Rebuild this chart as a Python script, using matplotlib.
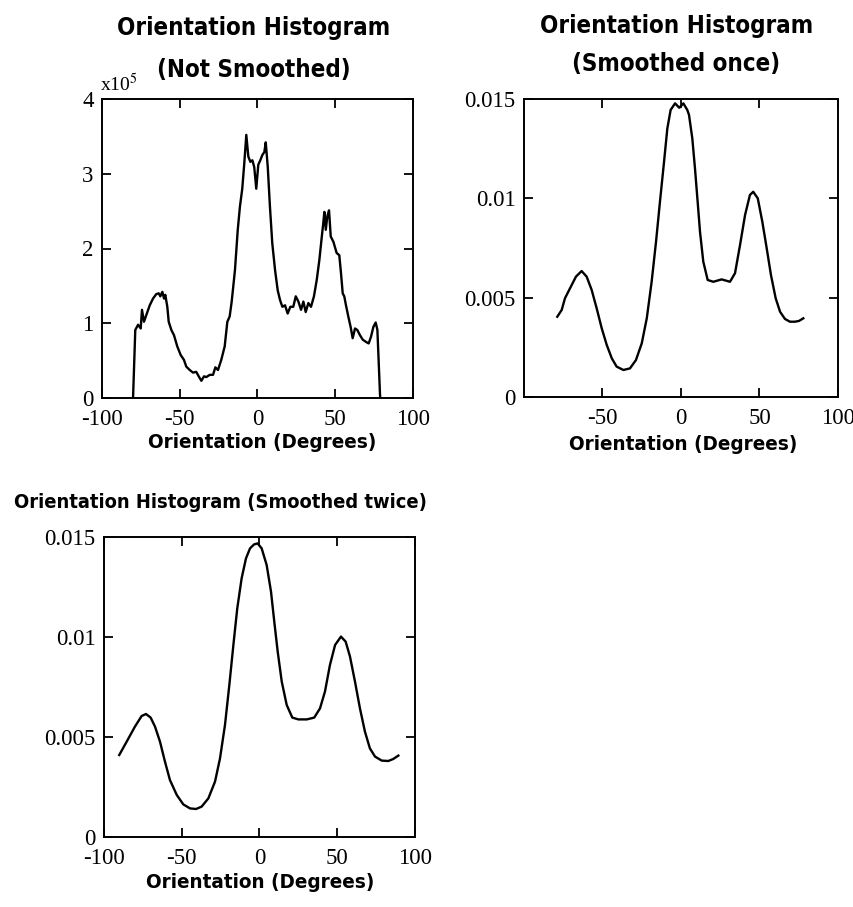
import matplotlib
matplotlib.use('Agg')
import matplotlib.pyplot as plt
from matplotlib import font_manager
from matplotlib.font_manager import FontProperties

# ---- data ----
# not smoothed histogram (counts in units of 1e5)
raw_deg = [-80.1, -80.0, -78.6, -76.8, -75.1, -74.3, -73.0, -71.5, -69.3, -67.2,
           -65.1, -63.5, -62.5, -61.2, -60.1, -59.3, -58.0, -57.1, -55.4, -53.7,
           -51.6, -49.4, -47.3, -45.8, -43.6, -41.5, -39.4, -37.8, -36.1, -34.4,
           -32.9, -30.7, -28.6, -27.1, -25.4, -23.3, -21.1, -19.4, -17.9, -16.6,
           -14.5, -12.7, -11.3, -9.8, -8.5, -7.2, -5.9, -4.6, -3.3, -2.1,
           -0.8, 0.5, 1.8, 3.1, 4.4, 5.3, 6.6, 8.0, 9.5, 11.3,
           13.0, 14.5, 16.0, 17.7, 19.4, 21.1, 23.0, 24.6, 26.3, 28.0,
           29.5, 31.0, 32.7, 34.4, 36.3, 38.1, 39.8, 41.1, 42.3, 43.0,
           43.9, 44.9, 46.0, 47.1, 48.8, 50.9, 52.6, 53.7, 54.8, 55.8,
           56.9, 58.4, 59.9, 61.2, 62.7, 64.2, 65.9, 67.7, 69.8, 71.5,
           73.0, 74.5, 76.0, 77.1, 78.8, 79.0]
raw_count = [0.0, 0.02, 0.91, 0.98, 0.93, 1.18, 1.02, 1.11, 1.24, 1.33,
             1.39, 1.40, 1.36, 1.42, 1.33, 1.38, 1.22, 1.02, 0.91, 0.84,
             0.69, 0.575, 0.51, 0.42, 0.375, 0.34, 0.35, 0.29, 0.23, 0.29,
             0.28, 0.31, 0.31, 0.41, 0.375, 0.51, 0.69, 1.02, 1.09, 1.29,
             1.71, 2.25, 2.56, 2.80, 3.14, 3.52, 3.23, 3.16, 3.18, 3.09,
             2.80, 3.12, 3.18, 3.25, 3.29, 3.42, 3.09, 2.56, 2.07, 1.71,
             1.44, 1.31, 1.22, 1.24, 1.13, 1.22, 1.22, 1.36, 1.29, 1.18,
             1.29, 1.15, 1.27, 1.22, 1.36, 1.58, 1.85, 2.11, 2.34, 2.49,
             2.25, 2.43, 2.51, 2.16, 2.09, 1.94, 1.91, 1.67, 1.40, 1.36,
             1.24, 1.09, 0.95, 0.80, 0.93, 0.91, 0.84, 0.78, 0.75, 0.73,
             0.82, 0.95, 1.01, 0.91, 0.04, 0.0]

# smoothed once
once_deg = [-78.8, -76.0, -73.9, -70.7, -66.9, -63.3, -60.1, -56.9, -53.7, -50.5,
            -47.3, -44.1, -41.0, -36.7, -32.5, -28.7, -25.0, -21.8, -18.7, -15.9,
            -13.4, -10.8, -8.7, -6.6, -3.8, -1.1, 1.5, 4.0, 5.1, 7.2,
            8.9, 10.6, 12.1, 14.2, 17.0, 20.6, 25.9, 31.2, 34.4, 37.6,
            40.8, 43.9, 46.0, 48.9, 51.8, 54.6, 57.3, 60.3, 63.1, 66.2,
            69.4, 72.6, 75.2, 77.9]
once_val = [0.00404, 0.00438, 0.00497, 0.00547, 0.00606, 0.00634, 0.00606, 0.00539, 0.00446, 0.00346,
            0.00262, 0.00195, 0.00153, 0.00136, 0.00144, 0.00186, 0.00270, 0.00396, 0.00580, 0.00782,
            0.00983, 0.01184, 0.01352, 0.01445, 0.01478, 0.01456, 0.01478, 0.01445, 0.01420, 0.01302,
            0.01151, 0.00983, 0.00832, 0.00681, 0.00589, 0.00580, 0.00592, 0.00580, 0.00623, 0.00765,
            0.00916, 0.01017, 0.01033, 0.01000, 0.00882, 0.00748, 0.00614, 0.00497, 0.00429, 0.00393,
            0.00379, 0.00379, 0.00383, 0.00396]

# smoothed twice
twice_deg = [-90.2, -85.4, -80.1, -75.8, -73.0, -70.0, -67.2, -64.0, -60.8, -57.6,
             -53.2, -49.0, -44.7, -40.8, -37.2, -32.9, -28.6, -25.4, -22.2, -19.4,
             -16.8, -14.3, -11.5, -8.7, -6.1, -3.5, -1.2, 1.4, 4.6, 7.4,
             9.5, 11.7, 14.3, 17.5, 21.1, 25.0, 30.4, 35.2, 38.9, 42.1,
             45.3, 48.6, 52.4, 55.4, 58.2, 61.4, 64.6, 67.8, 71.0, 74.3,
             78.6, 82.8, 86.0, 89.3]
twice_val = [0.00410, 0.00477, 0.00552, 0.00605, 0.00615, 0.00597, 0.00552, 0.00477, 0.00377, 0.00285,
             0.00210, 0.00163, 0.00143, 0.00140, 0.00152, 0.00193, 0.00277, 0.00393, 0.00560, 0.00760,
             0.00960, 0.01143, 0.01293, 0.01393, 0.01443, 0.01463, 0.01468, 0.01443, 0.01360, 0.01227,
             0.01077, 0.00927, 0.00777, 0.00660, 0.00597, 0.00588, 0.00588, 0.00597, 0.00643, 0.00727,
             0.00860, 0.00960, 0.01002, 0.00977, 0.00902, 0.00777, 0.00643, 0.00527, 0.00443, 0.00402,
             0.00382, 0.00380, 0.00390, 0.00407]

xticks_full = [-100, -50, 0, 50, 100]
xticks_once = [-50, 0, 50, 100]
yticks_raw = [0, 1, 2, 3, 4]
yticks_norm = [0, 0.005, 0.01, 0.015]
ylabels_norm = ['0', '0.005', '0.01', '0.015']

# ---- fonts: prefer a narrow bold sans for the headings ----
head_prop = None
ttf = font_manager.fontManager.ttflist
for want in ['Liberation Sans Narrow', 'Arial Narrow', 'DejaVu Sans Condensed']:
    hits = [f for f in ttf if f.name == want and f.weight in (700, 'bold')]
    if hits:
        head_prop = FontProperties(fname=hits[0].fname)
        break
if head_prop is None:
    hits = [f for f in ttf if f.name == 'DejaVu Sans' and f.stretch == 'condensed'
            and f.weight in (700, 'bold')]
    if hits:
        head_prop = FontProperties(fname=hits[0].fname)
if head_prop is None:
    head_prop = FontProperties(family='Liberation Sans', weight='bold')

tick_font = 'Liberation Serif'
plt.rcParams['mathtext.fontset'] = 'stix'

W, H = 854, 907
fig = plt.figure(figsize=(W / 100, H / 100), dpi=100)
renderer = fig.canvas.get_renderer()


def px_axes(x0, y0, x1, y1):
    return fig.add_axes([x0 / W, 1 - y1 / H, (x1 - x0) / W, (y1 - y0) / H])


def style(ax, xt, yt, ylab=None):
    ax.set_xlim(-100, 100)
    ax.set_xticks(xt)
    ax.set_xticklabels([str(v) for v in xt])
    ax.set_yticks(yt)
    if ylab is not None:
        ax.set_yticklabels(ylab)
    ax.tick_params(direction='in', top=True, right=True, length=6.5, width=1.3,
                   labelsize=16.5)
    ax.tick_params(axis='x', pad=8)
    ax.tick_params(axis='y', pad=6)
    for lab in ax.get_xticklabels() + ax.get_yticklabels():
        lab.set_family(tick_font)
    for sp in ax.spines.values():
        sp.set_linewidth(1.4)


def fit_size(s, width_px):
    # pick the font size that gives the heading its width in the scan
    p = head_prop.copy()
    p.set_size(20)
    t = fig.text(0, 0, s, fontproperties=p)
    w = t.get_window_extent(renderer=renderer).width
    t.remove()
    return 20 * width_px / w


def ftext(x, y, s, size):
    p = head_prop.copy()
    p.set_size(size)
    fig.text(x / W, 1 - y / H, s, ha='center', va='center', fontproperties=p)


size_title = fit_size('Orientation Histogram', 274)
size_wide = fit_size('Orientation Histogram (Smoothed twice)', 416)
size_xlab = fit_size('Orientation (Degrees)', 228)

# Not smoothed
ax1 = px_axes(102, 99, 413, 398)
ax1.plot(raw_deg, raw_count, color='black', lw=1.7, solid_joinstyle='round')
ax1.set_ylim(0, 4)
style(ax1, xticks_full, yticks_raw)
ax1.text(-0.005, 1.012, r'x10$^{5}$', transform=ax1.transAxes, ha='left', va='bottom',
         fontsize=14, family=tick_font)
ftext(254, 28, 'Orientation Histogram', size_title)
ftext(254, 70, '(Not Smoothed)', size_title)
ftext(262, 443, 'Orientation (Degrees)', size_xlab)

# Smoothed once
ax2 = px_axes(524, 99, 838, 397)
ax2.plot(once_deg, once_val, color='black', lw=1.7, solid_joinstyle='round')
ax2.set_ylim(0, 0.015)
style(ax2, xticks_once, yticks_norm, ylabels_norm)
ftext(677, 26, 'Orientation Histogram', size_title)
ftext(676, 64, '(Smoothed once)', size_title)
ftext(683, 445, 'Orientation (Degrees)', size_xlab)

# Smoothed twice
ax3 = px_axes(104, 537, 415, 837)
ax3.plot(twice_deg, twice_val, color='black', lw=1.7, solid_joinstyle='round')
ax3.set_ylim(0, 0.015)
style(ax3, xticks_full, yticks_norm, ylabels_norm)
ftext(220, 502, 'Orientation Histogram (Smoothed twice)', size_wide)
ftext(260, 883, 'Orientation (Degrees)', size_xlab)

fig.savefig('out.png', dpi=100)
